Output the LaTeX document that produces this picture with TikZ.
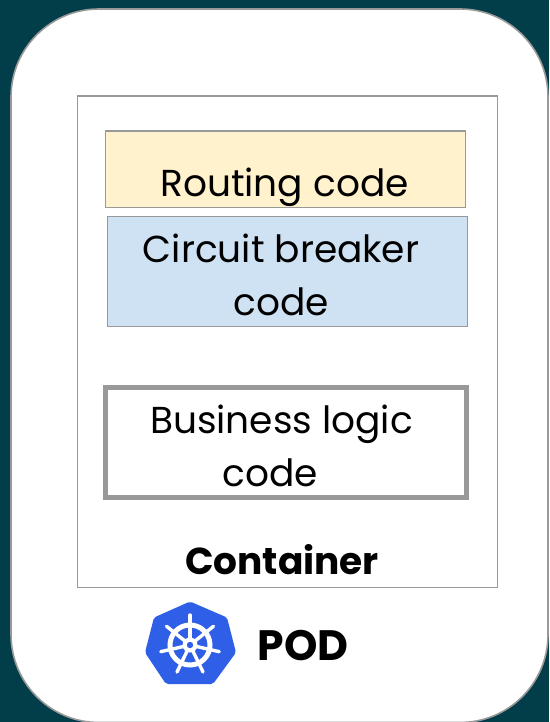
\documentclass[tikz,border=0pt]{standalone}
\usepackage{fontspec}
\setmainfont{Poppins}
\definecolor{bgteal}{HTML}{023E4A}
\definecolor{edgegray}{HTML}{999999}
\definecolor{routefill}{HTML}{FFF2CC}
\definecolor{cbfill}{HTML}{CFE2F3}
\definecolor{k8sblue}{HTML}{2F5FE6}
\tikzset{
  box/.style={draw=edgegray,line width=1.5pt,anchor=north west,inner sep=0pt},
  lbl/.style={font=\fontsize{37.5}{53}\selectfont,text=black,align=center,inner sep=0pt},
  boldlbl/.style={font=\fontsize{37.5}{44}\selectfont\bfseries,text=black,inner sep=0pt},
}
\begin{document}
\begin{tikzpicture}[x=1pt,y=-1pt]
\useasboundingbox (0,0) rectangle (549,722);
\fill[bgteal] (0,0) rectangle (549,722);
\draw[edgegray,line width=1.6pt,fill=white,rounded corners=88pt] (11,9) rectangle (548,722.5);
\node[box,minimum width=420pt,minimum height=491pt] (container) at (76.5,95.5) {};
\node[box,fill=routefill,minimum width=360pt,minimum height=76pt] (routing) at (104.5,130.5) {};
\node[box,fill=cbfill,minimum width=360pt,minimum height=110pt] (breaker) at (106.5,215.5) {};
\node[box,line width=5pt,minimum width=361pt,minimum height=110pt] (logic) at (102.5,385) {};
\node[lbl] (routingt) at (284.5,187.5) {Routing code};
\node[lbl] (breakert) at (281,275) {Circuit breaker\\code};
\node[lbl] (logict) at (281.5,445.5) {Business logic\\code\hspace{0.6em}\hspace{0.6em}};
\node[boldlbl] (containert) at (282,559.5) {Container};
\fill[k8sblue,rounded corners=2pt] (190,601.5) -- (227,617.5) -- (236,652.5) -- (213,684) -- (166,684) -- (145,652.5) -- (154,617.5) -- cycle;
\begin{scope}[shift={(190,645)}]
  \draw[white,line width=5pt] (0,0) circle (20pt);
  \foreach \a in {90,141.43,192.86,244.29,295.71,347.14,38.57}{
    \draw[white,line width=3.4pt,line cap=round] (\a:6pt) -- (\a:30pt);
  }
  \fill[white] (0,0) circle (7.5pt);
  \fill[k8sblue] (0,0) circle (3.2pt);
\end{scope}
\node[boldlbl,font=\fontsize{42.5}{48}\selectfont\bfseries] (pod) at (303,645.5) {POD};
\end{tikzpicture}
\end{document}
